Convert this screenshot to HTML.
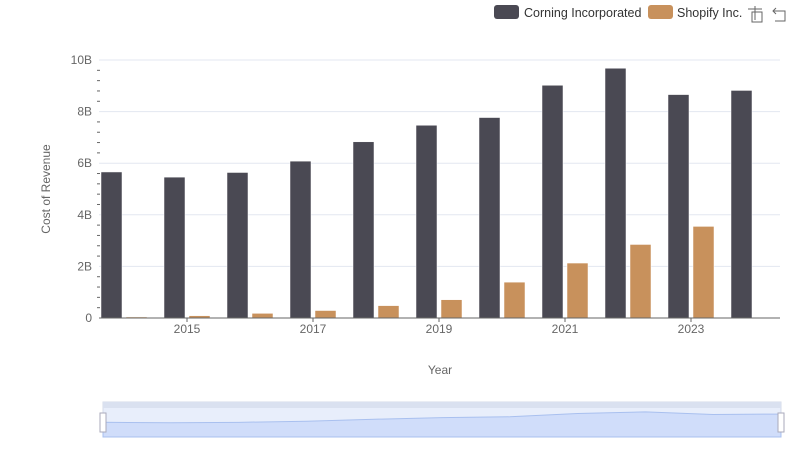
<!DOCTYPE html>
<html><head><meta charset="utf-8"><style>
body{margin:0;background:#fff;font-family:"Liberation Sans",sans-serif;}
svg text{font-family:"Liberation Sans",sans-serif;}
</style></head><body>
<svg width="800" height="461" viewBox="0 0 800 461">
<g id="legend">
  <g>
    <rect x="494" y="5" width="25" height="14" rx="3" fill="#4a4953"/>
    <text x="524" y="17" font-size="12.5" fill="#333">Corning Incorporated</text>
  </g>
  <g>
    <rect x="648" y="5" width="25" height="14" rx="3" fill="#c8915c"/>
    <text x="677" y="17" font-size="12.5" fill="#333">Shopify Inc.</text>
  </g>
  <g stroke="#666" fill="none" stroke-width="1">
    <path d="M748 9 h14 M755 6 v14 M752 12 h10 v10 h-10 z"/>
  </g>
  <g stroke="#666" fill="none" stroke-width="1">
    <path d="M776 8 l-3 3 l3 3 M773 11 h12 v10 h-10"/>
  </g>
</g>
<g id="grid"></g>
<g id="yaxis"></g>
<g id="bars"></g>
<g id="xaxis"></g>
<text transform="translate(50,189) rotate(-90)" text-anchor="middle" font-size="12" fill="#666">Cost of Revenue</text>
<text x="440" y="374" text-anchor="middle" font-size="12" fill="#666">Year</text>
<g>
  <rect x="103" y="402" width="678" height="35" fill="#e8eefb" stroke="#d4dbea"/>
  <rect x="103" y="402" width="678" height="6" fill="#dae1f0"/>
  <path id="zoompath" fill="#d0ddfa" stroke="#a9c0ef" stroke-width="1"/>
  <rect x="100" y="413" width="6" height="19" fill="#fff" stroke="#aab"/>
  <rect x="778" y="413" width="6" height="19" fill="#fff" stroke="#aab"/>
</g>
</svg>
<script>
const years=[2014,2015,2016,2017,2018,2019,2020,2021,2022,2023,2024];
const corning=[5.66,5.46,5.64,6.08,6.83,7.47,7.77,9.02,9.68,8.66,8.82];
const shopify=[0.04,0.09,0.18,0.29,0.48,0.71,1.39,2.13,2.85,3.55,null];
const yTicks=[0,2,4,6,8,10];
const yTickLabels=["0","2B","4B","6B","8B","10B"];
const xTickYears=[2015,2017,2019,2021,2023];
const NS="http://www.w3.org/2000/svg";
function y(v){return 318-v*25.8;}
function xc(yr){return 124+(yr-2014)*63;}
function mk(t,a,p){const e=document.createElementNS(NS,t);for(const k in a)e.setAttribute(k,a[k]);p.appendChild(e);return e;}
const grid=document.getElementById('grid'),ya=document.getElementById('yaxis'),bars=document.getElementById('bars'),xa=document.getElementById('xaxis');
yTicks.forEach((v,i)=>{
  if(v>0){const g=mk('line',{x1:99,x2:780,y1:y(v),y2:y(v),stroke:'#e3e7f0'},grid);
  
  }
  const t=mk('text',{x:92,y:y(v)+4,'text-anchor':'end','font-size':12,fill:'#666'},ya);
  t.textContent=yTickLabels[i];
  
  
  if(i<yTicks.length-1){for(let k=1;k<5;k++){const yy=y(v+k*(yTicks[1]-yTicks[0])/5);
    const m=mk('line',{x1:97,x2:100,y1:yy,y2:yy,stroke:'#666'},ya);
    
    }}
});
years.forEach((yr,i)=>{
  const c=corning[i];
  if(c!=null){const r=mk('rect',{x:xc(yr)-23,y:y(c),width:21,height:318-y(c),fill:'#4a4953',stroke:'#fff','stroke-width':0.5},bars);
  
  }
  const s=shopify[i];
  if(s!=null){const r=mk('rect',{x:xc(yr)+2,y:y(s),width:21,height:318-y(s),fill:'#c8915c',stroke:'#fff','stroke-width':0.5},bars);
  
  }
});
const ax=mk('line',{x1:99,x2:780,y1:318,y2:318,stroke:'#666'},xa);


xTickYears.forEach(yr=>{
  const tk=mk('line',{x1:xc(yr),x2:xc(yr),y1:318,y2:322,stroke:'#666'},xa);
  
  
  const t=mk('text',{x:xc(yr),y:333,'text-anchor':'middle','font-size':12,fill:'#666'},xa);
  t.textContent=yr;
  
  
});
// zoom slider overview of corning series
const zx=i=>103+i*(678/(years.length-1)), zy=v=>437-v*2.6;
let d='M'+zx(0)+' 437';
corning.forEach((v,i)=>{d+=' L'+zx(i)+' '+zy(v);});
d+=' L'+zx(years.length-1)+' 437 Z';
document.getElementById('zoompath').setAttribute('d',d);
</script>
</body></html>
